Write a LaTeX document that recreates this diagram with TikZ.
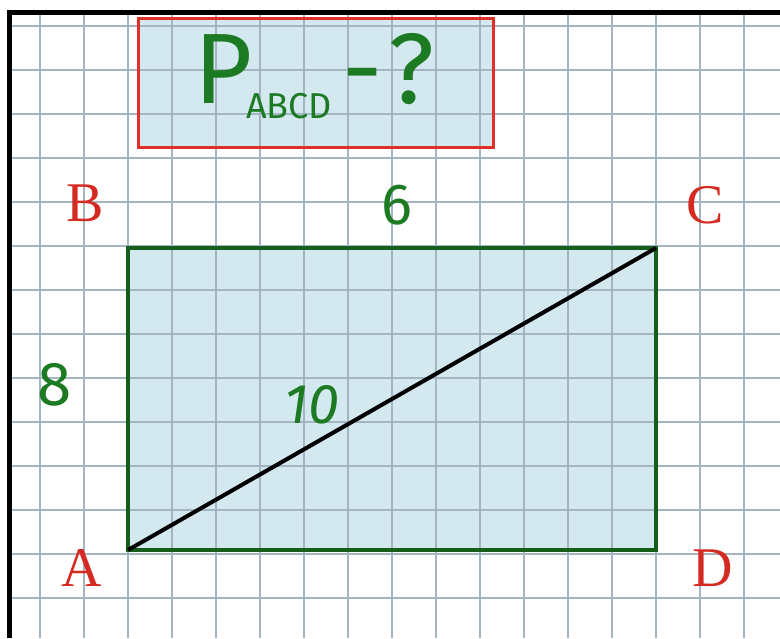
\documentclass[tikz,border=0pt]{standalone}
\usepackage{fontspec}
\setmainfont{Liberation Serif}
\newfontfamily\handfont{Fira Sans}
\usepackage{xcolor}
\definecolor{gridblue}{HTML}{A3B4C3}
\definecolor{paperblue}{HTML}{D4E8EF}
\definecolor{inkgreen}{HTML}{1C7A22}
\definecolor{edgegreen}{HTML}{145E1A}
\definecolor{vertexred}{HTML}{D42A22}
\definecolor{boxred}{HTML}{E0302A}

\begin{document}
\begin{tikzpicture}[x=1pt, y=-1pt,
  gridline/.style={draw=gridblue, line width=1.1pt},
  vertex/.style={text=vertexred, inner sep=0pt, font=\fontsize{56}{56}\selectfont},
  measure/.style={text=inkgreen, inner sep=0pt, font=\handfont\fontsize{58}{58}\selectfont},
  side/.style={draw=edgegreen, line width=4.5pt}]

\useasboundingbox (0,0) rectangle (780,638);
\fill[white] (0,0) rectangle (780,638);

% corners of the rectangle
\coordinate (A) at (128,550);
\coordinate (B) at (128,248);
\coordinate (C) at (656,248);
\coordinate (D) at (656,550);
\coordinate (boxnw) at (138,18);
\coordinate (boxse) at (493,147);

% tinted areas, grid shows through
\fill[paperblue] (boxnw) rectangle (boxse);
\fill[paperblue] (A) rectangle (C);

% squared paper
\foreach \x in {40,84,...,744}
  \draw[gridline] (\x,15) -- (\x,638);
\foreach \y in {26,70,...,598}
  \draw[gridline] (12,\y) -- (780,\y);

% page edge
\draw[line width=5pt] (9.5,638) -- (9.5,12.5) -- (780,12.5);

% question box
\draw[draw=boxred, line width=3pt] (boxnw) rectangle (boxse);
\node[measure, anchor=base west] (title) at (194,103)
  {\fontsize{100}{100}\selectfont P\kern-6pt\raisebox{-15pt}{\fontsize{36}{36}\selectfont ABCD}\hspace{10pt}-\hspace{6pt}?};

% rectangle and diagonal
\draw[side] (A) -- (B) -- (C) -- (D) -- cycle;
\draw[line width=4pt] (A) -- (C);

% vertex names
\node[vertex] (labelB) at (85,203) {B};
\node[vertex] (labelC) at (705,205) {C};
\node[vertex] (labelA) at (82,568) {A};
\node[vertex] (labelD) at (713,568) {D};

% lengths
\node[measure] (lenBC) at (397,205) {6};
\node[measure, font=\handfont\fontsize{62}{62}\selectfont] (lenAB) at (55,385) {8};
\node[measure, font=\handfont\itshape\fontsize{56}{56}\selectfont] (lenAC) at (312,405) {10};
\end{tikzpicture}
\end{document}
